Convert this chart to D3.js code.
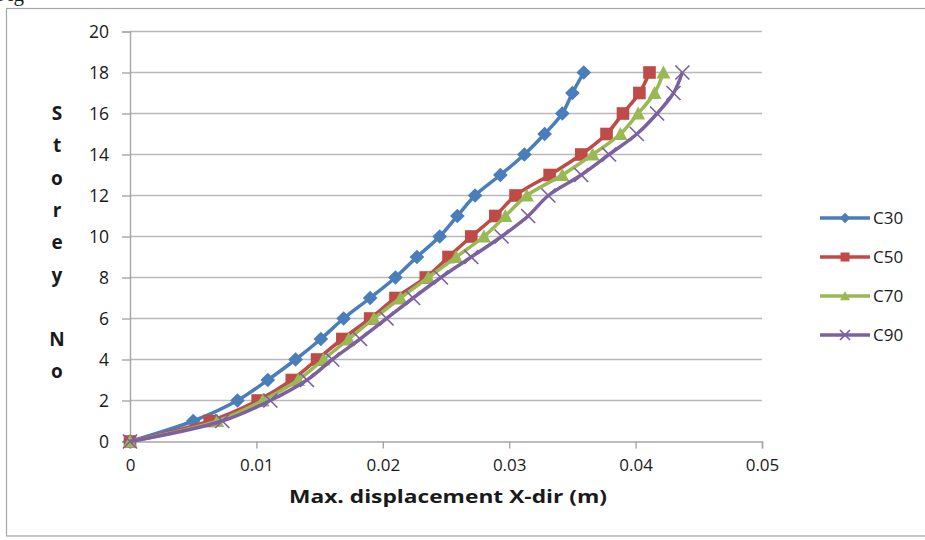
<!DOCTYPE html>
<html>
<head>
<meta charset="utf-8">
<script src="https://cdn.jsdelivr.net/npm/d3@7"></script>
<style>
  html, body { margin: 0; padding: 0; background: #fff; }
  svg { display: block; }
  text { font-family: "Open Sans", "Liberation Sans", sans-serif; fill: #1a1a1a; }
</style>
</head>
<body>
<svg id="chart" width="925" height="540"></svg>
<script>
// Storey levels (y values) and maximum X-direction displacement (m) per concrete grade
const storeys = [0, 1, 2, 3, 4, 5, 6, 7, 8, 9, 10, 11, 12, 13, 14, 15, 16, 17, 18];
const c30 = [0, 0.0050, 0.0085, 0.0109, 0.0131, 0.0151, 0.0169, 0.0190, 0.0210, 0.0227, 0.0245, 0.0259, 0.0273, 0.0293, 0.0312, 0.0328, 0.0342, 0.0350, 0.0359];
const c50 = [0, 0.0063, 0.0101, 0.0128, 0.0148, 0.0168, 0.0190, 0.0210, 0.0234, 0.0252, 0.0270, 0.0289, 0.0305, 0.0332, 0.0357, 0.0377, 0.0390, 0.0403, 0.0411];
const c70 = [0, 0.0069, 0.0105, 0.0133, 0.0153, 0.0173, 0.0193, 0.0214, 0.0236, 0.0258, 0.0280, 0.0297, 0.0314, 0.0342, 0.0366, 0.0388, 0.0402, 0.0415, 0.0422];
const c90 = [0, 0.0073, 0.0111, 0.0140, 0.0160, 0.0182, 0.0203, 0.0224, 0.0246, 0.0270, 0.0294, 0.0315, 0.0331, 0.0357, 0.0379, 0.0401, 0.0417, 0.0430, 0.0437];

const seriesNames = ["C30", "C50", "C70", "C90"];
const seriesValues = [c30, c50, c70, c90];
const seriesColors = ["#4a7ebb", "#be4b48", "#98b954", "#7d60a0"];
const seriesMarkers = ["diamond", "square", "triangle", "cross"];

const xTicks = [0, 0.01, 0.02, 0.03, 0.04, 0.05];
const yTicks = [0, 2, 4, 6, 8, 10, 12, 14, 16, 18, 20];
const yTitleLetters = ["S", "t", "o", "r", "e", "y", "", "N", "o"];

const svg = d3.select("#chart");

// caption fragment above the chart frame
svg.append("text")
  .attr("x", -4).attr("y", 1)
  .style("font-family", "'Liberation Serif', serif")
  .style("font-size", "21px")
  .text("Fig");

// chart frame
svg.append("rect")
  .attr("x", 6.5).attr("y", 8.5)
  .attr("width", 930).attr("height", 527.5)
  .attr("fill", "#fff")
  .attr("stroke", "#a6a6a6").attr("stroke-width", 1.2);

const x = d3.scaleLinear().domain([0, 0.05]).range([130, 762]);
const y = d3.scaleLinear().domain([0, 20]).range([441.5, 31.5]);

// horizontal gridlines
svg.append("g")
  .selectAll("line")
  .data(yTicks.filter(d => d !== 0))
  .join("line")
  .attr("x1", x(0)).attr("x2", x(0.05))
  .attr("y1", d => y(d)).attr("y2", d => y(d))
  .attr("stroke", "#b9b9b9").attr("stroke-width", 1.4);

// y axis
const yAxis = svg.append("g")
  .attr("transform", `translate(${x(0)},0)`)
  .call(d3.axisLeft(y).tickValues(yTicks).tickSize(8).tickPadding(13).tickFormat(d3.format("d")));
yAxis.select(".domain").attr("stroke", "#a6a6a6").attr("stroke-width", 1.4);
yAxis.selectAll(".tick line").attr("stroke", "#a6a6a6").attr("stroke-width", 1.4);
yAxis.selectAll(".tick text")
  .style("font-size", "17.5px").style("font-family", "'Open Sans', sans-serif")
  .attr("fill", "#1a1a1a");

// x axis
const xAxis = svg.append("g")
  .attr("transform", `translate(0,${y(0)})`)
  .call(d3.axisBottom(x).tickValues(xTicks).tickSize(7).tickPadding(10)
    .tickFormat(d => d === 0 ? "0" : d3.format(".2f")(d)));
xAxis.select(".domain").attr("stroke", "#a6a6a6").attr("stroke-width", 1.4);
xAxis.selectAll(".tick line").attr("stroke", "#a6a6a6").attr("stroke-width", 1.4);
xAxis.selectAll(".tick text")
  .style("font-size", "17px").style("font-family", "'Open Sans', sans-serif")
  .attr("fill", "#1a1a1a");

// x axis title
svg.append("text")
  .attr("x", 448).attr("y", 503)
  .attr("text-anchor", "middle")
  .attr("textLength", 318).attr("lengthAdjust", "spacingAndGlyphs")
  .style("font-size", "18px").style("font-weight", "bold")
  .text("Max. displacement X-dir (m)");

// y axis title, one letter per row
svg.append("g")
  .selectAll("text")
  .data(yTitleLetters)
  .join("text")
  .attr("x", 57)
  .attr("y", (d, i) => 120 + i * 32.3)
  .attr("text-anchor", "middle")
  .style("font-size", "19px").style("font-weight", "bold")
  .text(d => d);

// marker drawing
function drawMarker(sel, type, color, size) {
  const h = size / 2;
  if (type === "diamond") {
    sel.append("path")
      .attr("d", `M0,${-h * 1.05}L${h * 1.05},0L0,${h * 1.05}L${-h * 1.05},0Z`)
      .attr("fill", color);
  } else if (type === "square") {
    sel.append("rect")
      .attr("x", -h * 0.9).attr("y", -h * 0.9)
      .attr("width", h * 1.8).attr("height", h * 1.8)
      .attr("fill", color);
  } else if (type === "triangle") {
    sel.append("path")
      .attr("d", `M0,${-h}L${h},${h * 0.85}L${-h},${h * 0.85}Z`)
      .attr("fill", color);
  } else {
    sel.append("path")
      .attr("d", `M${-h},${-h}L${h},${h}M${-h},${h}L${h},${-h}`)
      .attr("stroke", color).attr("stroke-width", 1.7).attr("fill", "none");
  }
}

const line = d3.line()
  .x(d => x(d[0]))
  .y(d => y(d[1]))
  .curve(d3.curveCatmullRom.alpha(0.5));

const plot = svg.append("g");
seriesNames.forEach((name, si) => {
  const pts = seriesValues[si].map((v, i) => [v, storeys[i]]);
  const g = plot.append("g");
  g.append("path")
    .datum(pts)
    .attr("d", line)
    .attr("fill", "none")
    .attr("stroke", seriesColors[si])
    .attr("stroke-width", 3.5)
    .attr("stroke-linejoin", "round");
  pts.forEach(p => {
    const m = g.append("g").attr("transform", `translate(${x(p[0])},${y(p[1])})`);
    drawMarker(m, seriesMarkers[si], seriesColors[si], 14);
  });
});

// legend
const legend = svg.append("g");
seriesNames.forEach((name, si) => {
  const ly = 218 + si * 39;
  const g = legend.append("g").attr("transform", `translate(820,${ly})`);
  g.append("line")
    .attr("x1", 0).attr("x2", 50).attr("y1", 0).attr("y2", 0)
    .attr("stroke", seriesColors[si]).attr("stroke-width", 3.5);
  const m = g.append("g").attr("transform", "translate(25,0)");
  drawMarker(m, seriesMarkers[si], seriesColors[si], 10);
  g.append("text")
    .attr("x", 53).attr("y", 6)
    .style("font-size", "17px")
    .text(name);
});
</script>
</body>
</html>
